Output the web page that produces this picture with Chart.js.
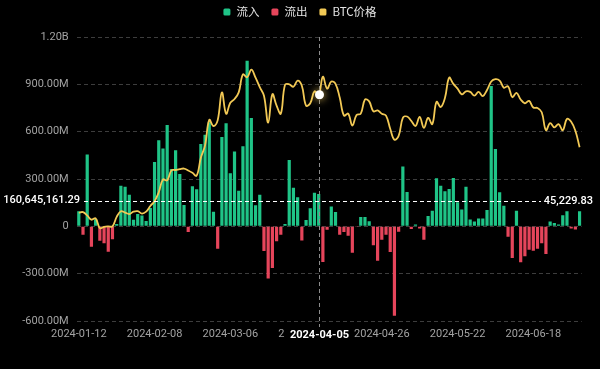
<!DOCTYPE html>
<html>
<head>
<meta charset="utf-8">
<script src="https://cdn.jsdelivr.net/npm/chart.js@4.4.1/dist/chart.umd.min.js"></script>
<style>
  html, body { margin: 0; padding: 0; background: #000; }
  #wrap { width: 600px; height: 369px; position: relative; }
</style>
</head>
<body>
<div id="wrap"><canvas id="flow-chart"></canvas></div>
<script>
// trading days shown on the category axis
const dates = [
  '2024-01-12', '2024-01-16', '2024-01-17', '2024-01-18', '2024-01-19', '2024-01-22', '2024-01-23', '2024-01-24', '2024-01-25', '2024-01-26',
  '2024-01-29', '2024-01-30', '2024-01-31', '2024-02-01', '2024-02-02', '2024-02-05', '2024-02-06', '2024-02-07', '2024-02-08', '2024-02-09',
  '2024-02-12', '2024-02-13', '2024-02-14', '2024-02-15', '2024-02-16', '2024-02-20', '2024-02-21', '2024-02-22', '2024-02-23', '2024-02-26',
  '2024-02-27', '2024-02-28', '2024-02-29', '2024-03-01', '2024-03-04', '2024-03-05', '2024-03-06', '2024-03-07', '2024-03-08', '2024-03-11',
  '2024-03-12', '2024-03-13', '2024-03-14', '2024-03-15', '2024-03-18', '2024-03-19', '2024-03-20', '2024-03-21', '2024-03-22', '2024-03-25',
  '2024-03-26', '2024-03-27', '2024-03-28', '2024-04-01', '2024-04-02', '2024-04-03', '2024-04-04', '2024-04-05', '2024-04-08', '2024-04-09',
  '2024-04-10', '2024-04-11', '2024-04-12', '2024-04-15', '2024-04-16', '2024-04-17', '2024-04-18', '2024-04-19', '2024-04-22', '2024-04-23',
  '2024-04-24', '2024-04-25', '2024-04-26', '2024-04-29', '2024-04-30', '2024-05-01', '2024-05-02', '2024-05-03', '2024-05-06', '2024-05-07',
  '2024-05-08', '2024-05-09', '2024-05-10', '2024-05-13', '2024-05-14', '2024-05-15', '2024-05-16', '2024-05-17', '2024-05-20', '2024-05-21',
  '2024-05-22', '2024-05-23', '2024-05-24', '2024-05-28', '2024-05-29', '2024-05-30', '2024-05-31', '2024-06-03', '2024-06-04', '2024-06-05',
  '2024-06-06', '2024-06-07', '2024-06-10', '2024-06-11', '2024-06-12', '2024-06-13', '2024-06-14', '2024-06-17', '2024-06-18', '2024-06-20',
  '2024-06-21', '2024-06-24', '2024-06-25', '2024-06-26', '2024-06-27', '2024-06-28', '2024-07-01', '2024-07-02', '2024-07-03', '2024-07-05'
];

// daily net flow, millions USD (positive = 流入, negative = 流出)
const netFlow = [
  95, -53, 456, -129, 45, -91, -108, -161, -82, 15,
  258, 251, 200, 42, 78, 68, 34, 116, 408, 545,
  494, 642, 363, 482, 332, 135, -36, 254, 235, 522,
  580, 660, 93, -142, 566, 653, 336, 475, 226, 507,
  1050, 687, 133, 200, -156, -330, -264, -95, -53, 15,
  420, 245, 184, -89, 40, 114, 213, 205, -226, -21,
  125, 91, -53, -36, -59, -167, -4, 59, 59, 32,
  -120, -218, -85, -53, -163, -566, -34, 380, 218, -17,
  11, -13, -85, 65, 99, 304, 258, 222, 237, 306,
  152, 106, 251, 44, 30, 49, 49, 104, 890, 490,
  216, 131, -66, -201, 99, -228, -190, -148, -155, -142,
  -108, -176, 31, 21, 11, 71, 95, -13, -20, 95
];

// BTC price, USD
const btcPrice = [
  42900, 43000, 42300, 41400, 41700, 39600, 39900, 40000, 40000, 42000,
  43200, 42900, 42600, 43100, 43200, 42700, 43100, 44300, 45300, 47200,
  49900, 49700, 51800, 51900, 52100, 52200, 51800, 51300, 50700, 54500,
  57100, 62500, 61200, 62400, 68300, 63800, 66100, 66900, 68300, 72100,
  71500, 73100, 71400, 69400, 67600, 61900, 67900, 65500, 63800, 69900,
  70000, 69500, 70800, 69700, 65500, 66000, 68500, 67800, 71600, 69100,
  70600, 70100, 67200, 63400, 63800, 61300, 63500, 63800, 66800, 66400,
  64300, 64500, 63800, 63400, 60600, 58300, 59100, 62900, 63200, 62300,
  61200, 63100, 60800, 62900, 61600, 66300, 65200, 67100, 71400, 70100,
  69100, 67900, 68500, 68400, 67600, 68400, 67500, 68800, 70600, 71100,
  70800, 69300, 69600, 67300, 68200, 66800, 66000, 66500, 65100, 65000,
  64100, 60300, 61800, 60900, 61600, 60300, 62700, 62100, 60200, 56700
];

// hover readout shown in the picture
const crossIndex = 57;
const crossFlow = 160645161.29;
const crossPrice = 45229.83;

const GREEN = '#1fc487';
const RED = '#e6455b';
const GOLD = '#f2c955';

const inflow = netFlow.map(v => (v > 0 ? v : null));
const outflow = netFlow.map(v => (v < 0 ? v : null));

const tickFont = { family: 'Roboto', size: 11 };

function fmtFlow(v) {
  if (v === 0) return '0';
  if (Math.abs(v) >= 1000) return (v / 1000).toFixed(2) + 'B';
  return v.toFixed(2) + 'M';
}

function fmtNum(v) {
  return v.toLocaleString('en-US', { minimumFractionDigits: 2, maximumFractionDigits: 2 });
}

const overlay = {
  id: 'overlay',
  afterDraw(chart) {
    const { ctx, chartArea, scales } = chart;
    const x = Math.round(scales.x.getPixelForValue(crossIndex)) + 0.5;
    const y = Math.round(scales.y.getPixelForValue(crossFlow / 1e6)) + 0.5;
    ctx.save();

    // crosshair lines
    ctx.lineWidth = 1;
    ctx.setLineDash([4, 3]);
    ctx.strokeStyle = '#8c8c8c';
    ctx.beginPath();
    ctx.moveTo(x, chartArea.top);
    ctx.lineTo(x, chartArea.bottom + 7);
    ctx.stroke();
    ctx.strokeStyle = '#ffffff';
    ctx.beginPath();
    ctx.moveTo(84, y);
    ctx.lineTo(541, y);
    ctx.stroke();
    ctx.setLineDash([]);

    // hovered point
    const py = scales.y1.getPixelForValue(btcPrice[crossIndex]);
    ctx.shadowColor = 'rgba(255, 214, 100, 0.95)';
    ctx.shadowBlur = 8;
    ctx.fillStyle = '#ffffff';
    ctx.beginPath();
    ctx.arc(x, py, 4.5, 0, Math.PI * 2);
    ctx.fill();
    ctx.shadowBlur = 0;

    // axis readouts
    ctx.font = '500 11px Roboto';
    ctx.textBaseline = 'middle';
    ctx.fillStyle = '#ffffff';
    ctx.textAlign = 'right';
    ctx.fillText(fmtNum(crossFlow), 80, y - 1);
    ctx.fillText(fmtNum(crossPrice), 593, y);

    ctx.font = 'bold 11px Roboto';
    ctx.textAlign = 'center';
    const label = dates[crossIndex];
    const w = ctx.measureText(label).width;
    ctx.fillStyle = '#000000';
    ctx.fillRect(x - w / 2 - 5, chartArea.bottom + 6, w + 10, 16);
    ctx.fillStyle = '#ffffff';
    ctx.fillText(label, x, chartArea.bottom + 14);

    // legend
    const items = [
      { text: '流入', color: GREEN },
      { text: '流出', color: RED },
      { text: 'BTC价格', color: GOLD }
    ];
    ctx.font = '11.5px "Noto Sans CJK SC"';
    ctx.textAlign = 'left';
    const box = 7, gap = 6, between = 12;
    const widths = items.map(it => box + gap + ctx.measureText(it.text).width);
    let lx = 300 - (widths.reduce((a, b) => a + b, 0) + between * (items.length - 1)) / 2;
    const ly = 12;
    items.forEach((it, i) => {
      ctx.fillStyle = it.color;
      ctx.beginPath();
      ctx.roundRect(lx, ly - box / 2, box, box, 1.5);
      ctx.fill();
      ctx.fillStyle = '#e4e4e4';
      ctx.fillText(it.text, lx + box + gap, ly);
      lx += widths[i] + between;
    });

    ctx.restore();
  }
};

new Chart(document.getElementById('flow-chart'), {
  data: {
    labels: dates,
    datasets: [
      {
        type: 'line',
        label: 'BTC价格',
        data: btcPrice,
        yAxisID: 'y1',
        borderColor: GOLD,
        borderWidth: 1.8,
        pointRadius: 0,
        tension: 0.4,
        order: 0
      },
      {
        type: 'bar',
        label: '流入',
        data: inflow,
        backgroundColor: GREEN,
        grouped: false,
        barPercentage: 0.76,
        categoryPercentage: 1,
        order: 1
      },
      {
        type: 'bar',
        label: '流出',
        data: outflow,
        backgroundColor: RED,
        grouped: false,
        barPercentage: 0.76,
        categoryPercentage: 1,
        order: 2
      }
    ]
  },
  options: {
    responsive: true,
    maintainAspectRatio: false,
    animation: false,
    layout: { padding: { top: 37, right: 18.3, left: 0, bottom: 0 } },
    plugins: {
      legend: { display: false },
      tooltip: { enabled: false }
    },
    scales: {
      x: {
        ticks: {
          autoSkip: false,
          maxRotation: 0,
          color: '#a3a3a3',
          font: tickFont,
          padding: 7,
          callback: (value, index) => (index % 18 === 0 ? dates[index] : '')
        },
        grid: { display: false, drawTicks: false },
        border: { display: false },
        afterFit(scale) { scale.height = 48; }
      },
      y: {
        position: 'left',
        min: -600,
        max: 1200,
        ticks: {
          stepSize: 300,
          color: '#a3a3a3',
          font: tickFont,
          padding: 8,
          callback: fmtFlow
        },
        grid: { color: '#3d3d3d', drawTicks: false },
        border: { display: false, dash: [4, 3] },
        afterFit(scale) { scale.width = 76.7; }
      },
      y1: {
        display: false,
        position: 'right',
        min: 20000,
        max: 80000
      }
    }
  },
  plugins: [overlay]
});
</script>
</body>
</html>
